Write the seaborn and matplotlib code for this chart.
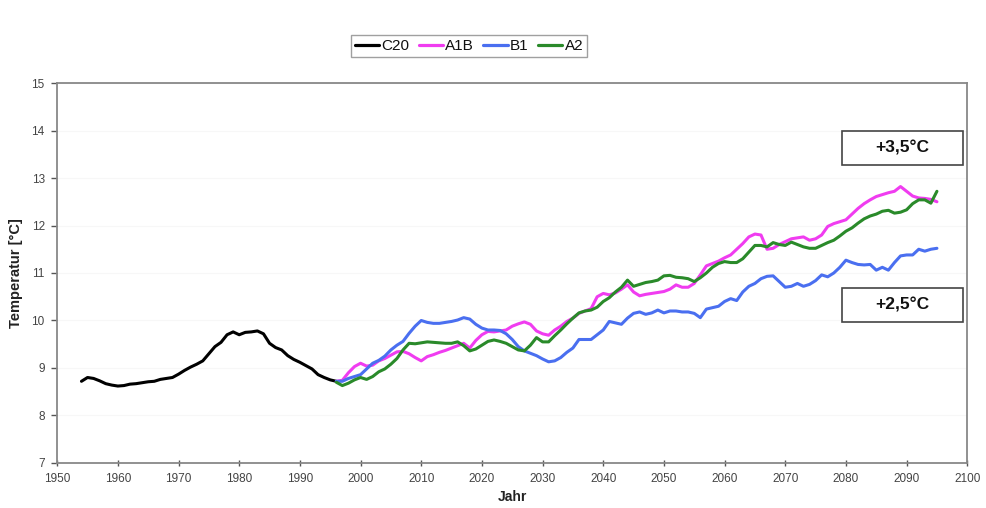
import matplotlib
matplotlib.use("Agg")
import matplotlib.pyplot as plt
from matplotlib.patches import Rectangle
import seaborn as sns
import pandas as pd

# Observed period (C20)
c20_years = list(range(1954, 1997))
c20_temp = [8.72, 8.80, 8.78, 8.73, 8.67, 8.64, 8.62, 8.63, 8.66, 8.67,
            8.69, 8.71, 8.72, 8.76, 8.78, 8.80, 8.87, 8.95, 9.02, 9.08,
            9.15, 9.30, 9.45, 9.54, 9.70, 9.76, 9.70, 9.75, 9.76, 9.78,
            9.72, 9.52, 9.43, 9.38, 9.26, 9.18, 9.12, 9.05, 8.98, 8.86,
            8.80, 8.75, 8.72]

# Scenario runs
scen_years = list(range(1996, 2096))
a1b_temp = [8.72, 8.74, 8.90, 9.03, 9.10, 9.04, 9.06, 9.15, 9.20, 9.27,
            9.34, 9.35, 9.30, 9.22, 9.15, 9.24, 9.28, 9.33, 9.37, 9.42,
            9.47, 9.52, 9.42, 9.58, 9.70, 9.77, 9.76, 9.78, 9.80, 9.88,
            9.93, 9.97, 9.92, 9.78, 9.72, 9.69, 9.80, 9.88, 9.98, 10.05,
            10.15, 10.20, 10.25, 10.50, 10.57, 10.54, 10.58, 10.66, 10.75, 10.60,
            10.52, 10.55, 10.57, 10.59, 10.61, 10.66, 10.75, 10.70, 10.70, 10.78,
            10.96, 11.15, 11.20, 11.25, 11.32, 11.38, 11.50, 11.62, 11.76, 11.82,
            11.80, 11.50, 11.52, 11.60, 11.66, 11.72, 11.74, 11.76, 11.69, 11.72,
            11.80, 11.98, 12.04, 12.08, 12.12, 12.24, 12.36, 12.46, 12.54, 12.61,
            12.65, 12.69, 12.72, 12.82, 12.72, 12.62, 12.58, 12.57, 12.55, 12.50]
b1_temp = [8.72, 8.72, 8.78, 8.82, 8.86, 8.98, 9.10, 9.16, 9.25, 9.38,
           9.48, 9.56, 9.73, 9.88, 10.00, 9.96, 9.94, 9.94, 9.96, 9.98,
           10.01, 10.06, 10.03, 9.92, 9.84, 9.80, 9.80, 9.79, 9.72, 9.60,
           9.45, 9.36, 9.31, 9.26, 9.19, 9.13, 9.15, 9.22, 9.33, 9.42,
           9.60, 9.60, 9.60, 9.70, 9.80, 9.98, 9.95, 9.92, 10.05, 10.15,
           10.18, 10.13, 10.16, 10.22, 10.16, 10.20, 10.20, 10.18, 10.18, 10.15,
           10.06, 10.24, 10.27, 10.30, 10.40, 10.46, 10.42, 10.60, 10.72, 10.78,
           10.88, 10.93, 10.94, 10.82, 10.70, 10.72, 10.78, 10.72, 10.76, 10.84,
           10.96, 10.92, 11.00, 11.12, 11.27, 11.22, 11.18, 11.17, 11.18, 11.06,
           11.12, 11.06, 11.22, 11.36, 11.38, 11.38, 11.50, 11.46, 11.50, 11.52]
a2_temp = [8.70, 8.63, 8.68, 8.75, 8.80, 8.76, 8.82, 8.92, 8.98, 9.08,
           9.20, 9.38, 9.52, 9.51, 9.53, 9.55, 9.54, 9.53, 9.52, 9.52,
           9.55, 9.47, 9.36, 9.40, 9.48, 9.56, 9.59, 9.56, 9.52, 9.45,
           9.38, 9.36, 9.48, 9.64, 9.55, 9.55, 9.68, 9.80, 9.93, 10.05,
           10.16, 10.20, 10.22, 10.28, 10.40, 10.48, 10.60, 10.70, 10.85, 10.72,
           10.76, 10.80, 10.82, 10.85, 10.94, 10.95, 10.91, 10.90, 10.88, 10.82,
           10.90, 11.00, 11.12, 11.20, 11.24, 11.22, 11.22, 11.30, 11.44, 11.58,
           11.58, 11.55, 11.64, 11.60, 11.58, 11.65, 11.60, 11.55, 11.52, 11.52,
           11.58, 11.64, 11.69, 11.78, 11.88, 11.95, 12.05, 12.14, 12.20, 12.24,
           12.30, 12.32, 12.26, 12.28, 12.33, 12.46, 12.54, 12.54, 12.47, 12.72]

series_order = ["C20", "A1B", "B1", "A2"]
colors = {"C20": "#000000", "A1B": "#f03cf0", "B1": "#4a6ff0", "A2": "#2a8a2a"}

annotations = [("+3,5°C", 13.63), ("+2,5°C", 10.33)]

frames = [pd.DataFrame({"Jahr": c20_years, "Temperatur": c20_temp, "Lauf": "C20"})]
for name, vals in [("A1B", a1b_temp), ("B1", b1_temp), ("A2", a2_temp)]:
    frames.append(pd.DataFrame({"Jahr": scen_years, "Temperatur": vals, "Lauf": name}))
df = pd.concat(frames, ignore_index=True)

sns.set_theme(style="white")
plt.rcParams["font.family"] = ["Liberation Sans", "DejaVu Sans"]

fig = plt.figure(figsize=(9.86, 5.08), dpi=100)
ax = fig.add_axes([0.058, 0.0886, 0.923, 0.748])

sns.lineplot(data=df, x="Jahr", y="Temperatur", hue="Lauf", hue_order=series_order,
             palette=colors, linewidth=2.2, ax=ax, legend=False, estimator=None)

ax.set_xlim(1950, 2100)
ax.set_ylim(7, 15)
ax.set_xticks(range(1950, 2101, 10))
ax.set_yticks(range(7, 16))
ax.tick_params(axis="both", labelsize=8.5, colors="#555555", labelcolor="#444444")
ax.tick_params(axis="y", direction="out", length=4, width=1, pad=5, left=True)
ax.tick_params(axis="x", direction="inout", length=5, width=1, pad=5, bottom=True)
ax.grid(axis="y", color="#f7f7f7", linewidth=0.8)
ax.set_axisbelow(True)
for sp in ax.spines.values():
    sp.set_color("#888888")
    sp.set_linewidth(1.3)

ax.set_xlabel("Jahr", fontsize=10, fontweight="bold", color="#222222", labelpad=3)
ax.set_ylabel("Temperatur [°C]", fontsize=10.5, fontweight="bold", color="#222222", labelpad=6)

# Legend across the top
handles = [plt.Line2D([], [], color=colors[n], linewidth=2.3) for n in series_order]
fig.legend(handles, series_order, loc="center", bbox_to_anchor=(0.4757, 0.909), ncol=4,
           frameon=True, fancybox=False, edgecolor="#888888", fontsize=11,
           handlelength=1.6, handletextpad=0.15, columnspacing=0.6,
           borderpad=0.25, labelcolor="#111111")

# Warming labels in framed boxes
box_w, box_h = 19.9, 0.72
for text, yv in annotations:
    ax.add_patch(Rectangle((2089.3 - box_w / 2, yv - box_h / 2), box_w, box_h,
                           facecolor="white", edgecolor="#444444", linewidth=1.2,
                           zorder=5))
    ax.text(2089.3, yv, text, ha="center", va="center", fontsize=12.5,
            fontweight="bold", color="#111111", zorder=6)

fig.savefig("out.png", dpi=100, facecolor="white")
